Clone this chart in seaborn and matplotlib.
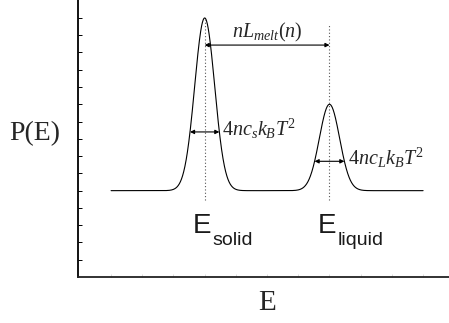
import numpy as np
import pandas as pd
import matplotlib
matplotlib.use("Agg")
import matplotlib.pyplot as plt
import seaborn as sns

# ---- data ----
peak_names = ["solid", "liquid"]
peak_centers = [4.0, 8.0]
peak_heights = [10.0, 5.0]
peak_sigmas = [0.32, 0.325]
baseline = 5.0
e_range = [1.0, 11.0]
width_frac = 0.34          # fraction of peak height where widths are marked
width_labels = [r"$\mathit{4}nc_s k_B T^2$", r"$\mathit{4}nc_L k_B T^2$"]
gap_label = r"$nL_{melt}(n)$"
e_labels = ["solid", "liquid"]

# ---- build curve ----
E = np.linspace(e_range[0], e_range[1], 2000)
P = np.full_like(E, baseline)
for c, h, s in zip(peak_centers, peak_heights, peak_sigmas):
    P = P + h * np.exp(-(E - c) ** 2 / (2 * s ** 2))
df = pd.DataFrame({"E": E, "P": P})

sns.set_theme(style="white")
plt.rcParams["font.family"] = ["Liberation Serif", "DejaVu Serif"]
plt.rcParams["mathtext.fontset"] = "custom"
plt.rcParams["mathtext.rm"] = "Liberation Serif"
plt.rcParams["mathtext.it"] = "Liberation Serif:italic"
plt.rcParams["mathtext.sf"] = "Liberation Sans"

fig = plt.figure(figsize=(4.49, 3.23), dpi=100)
ax = fig.add_axes([78 / 449, 46 / 323, 1 - 78 / 449, 277 / 323])

sns.lineplot(data=df, x="E", y="P", ax=ax, color="black", linewidth=0.8)

ax.set_xlim(-0.06, 11.83)
ax.set_ylim(0, 16.04)

# dotted vertical lines
dot_tops = [baseline + peak_heights[0], 14.6]
for c, top in zip(peak_centers, dot_tops):
    ax.plot([c, c], [4.47, top], linestyle=(0, (1, 2)), color="#555555", linewidth=0.8)

# gap arrow
gap_y = 13.43
ax.annotate("", xy=(peak_centers[1], gap_y), xytext=(peak_centers[0], gap_y),
            arrowprops=dict(arrowstyle="<|-|>", color="black", lw=0.8,
                            mutation_scale=6, shrinkA=0, shrinkB=0))
ax.text((peak_centers[0] + peak_centers[1]) / 2, 13.85, gap_label,
        ha="center", va="baseline", fontsize=14.5)

# width arrows
for c, h, s, lab in zip(peak_centers, peak_heights, peak_sigmas, width_labels):
    half = s * np.sqrt(-2 * np.log(width_frac))
    y = baseline + width_frac * h
    ax.annotate("", xy=(c + half, y), xytext=(c - half, y),
                arrowprops=dict(arrowstyle="<|-|>", color="black", lw=0.8,
                                mutation_scale=6, shrinkA=0, shrinkB=0))
    ax.text(c + half + 0.1, y - 0.2, lab, ha="left", va="baseline", fontsize=14.5)

# E labels
for c, lab in zip(peak_centers, e_labels):
    ax.text(c - 0.37, 2.56, "E", ha="left", va="baseline", fontsize=20,
            family="Liberation Sans", color="#1a1a1a")
    ax.text(c + 0.25, 1.85, lab, ha="left", va="baseline", fontsize=14,
            family="Liberation Sans", color="#1a1a1a")

# axes styling
for side in ["top", "right"]:
    ax.spines[side].set_visible(False)
ax.spines["left"].set_linewidth(1.3)
ax.spines["bottom"].set_linewidth(1.3)
ax.spines["left"].set_color("black")
ax.spines["bottom"].set_color("#222222")

ax.set_xticks(np.arange(1, 12))
ax.set_yticks(np.arange(1, 16))
ax.set_xticklabels([])
ax.set_yticklabels([])
ax.tick_params(axis="y", direction="in", length=3, width=0.7, color="black", left=True)
ax.tick_params(axis="x", direction="in", length=2, width=0.5, color="#cccccc", bottom=True)

ax.set_xlabel("E", fontsize=21)
ax.set_ylabel("P(E)", fontsize=20, rotation=0)
ax.xaxis.set_label_coords(0.509, -0.094)
ax.yaxis.set_label_coords(-0.116, 0.516)
ax.xaxis.label.set_va("center")
ax.yaxis.label.set_va("center")
ax.yaxis.label.set_ha("center")

fig.savefig("out.png", dpi=100)
